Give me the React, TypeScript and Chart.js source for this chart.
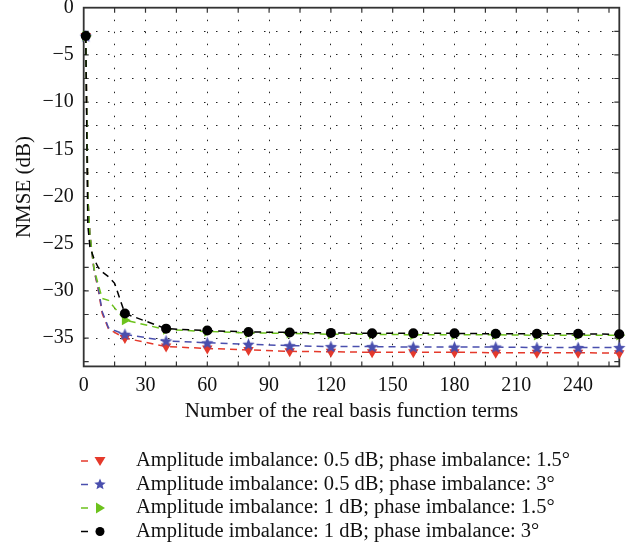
import React, { useEffect, useRef } from 'react';
import { Chart, registerables } from 'chart.js';
Chart.register(...registerables);

const xs = [1, 2, 3, 5, 7, 9, 12, 15, 20, 40, 60, 80, 100, 120, 140, 160, 180, 200, 220, 240, 260];
const redY = [-3, -20, -24, -27.8, -29.8, -32.4, -34.0, -34.4, -35.0, -35.9, -36.1, -36.25, -36.4, -36.45, -36.5, -36.5, -36.5, -36.55, -36.55, -36.55, -36.6];
const blueY = [-3, -20, -24, -27.8, -29.6, -32.2, -33.9, -34.2, -34.6, -35.3, -35.5, -35.65, -35.8, -35.9, -35.9, -35.95, -35.95, -35.95, -36.0, -36.0, -36.0];
const greenY = [-3, -20, -24, -27.6, -29.3, -30.8, -31.0, -31.8, -33.1, -34.1, -34.3, -34.45, -34.5, -34.6, -34.6, -34.65, -34.65, -34.65, -34.7, -34.7, -34.7];
const blackY = [-3, -23, -25.3, -26.6, -27.5, -28.0, -28.5, -29.2, -32.4, -34.0, -34.2, -34.35, -34.4, -34.45, -34.5, -34.5, -34.5, -34.55, -34.55, -34.55, -34.6];
const seriesNames = [
  'Amplitude imbalance: 0.5 dB; phase imbalance: 1.5°',
  'Amplitude imbalance: 0.5 dB; phase imbalance: 3°',
  'Amplitude imbalance: 1 dB; phase imbalance: 1.5°',
  'Amplitude imbalance: 1 dB; phase imbalance: 3°',
];
const colors = ['#e5392b', '#4a4fae', '#6cc21c', '#000000'];
const xTitle = 'Number of the real basis function terms';
const yTitle = 'NMSE (dB)';

const FONT = '"Liberation Serif", "DejaVu Serif", serif';

function starPath(ctx: CanvasRenderingContext2D, cx: number, cy: number, r: number) {
  ctx.beginPath();
  for (let i = 0; i < 10; i++) {
    const rr = i % 2 === 0 ? r : r * 0.45;
    const a = -Math.PI / 2 + (i * Math.PI) / 5;
    const px = cx + rr * Math.cos(a);
    const py = cy + rr * Math.sin(a);
    if (i === 0) ctx.moveTo(px, py);
    else ctx.lineTo(px, py);
  }
  ctx.closePath();
}

function makeStar(color: string, r: number) {
  const c = document.createElement('canvas');
  const s = Math.ceil(2 * r + 2);
  c.width = s;
  c.height = s;
  const g = c.getContext('2d')!;
  g.fillStyle = color;
  starPath(g, s / 2, s / 2 + 0.5, r);
  g.fill();
  return c;
}

const noPad = (s: any) => {
  s.paddingTop = 0;
  s.paddingBottom = 0;
  s.paddingLeft = 0;
  s.paddingRight = 0;
};

export default function App() {
  const ref = useRef<HTMLCanvasElement | null>(null);
  useEffect(() => {
    document.body.style.margin = '0';
    const canvas = ref.current!;
    const star = makeStar(colors[1], 6.5);
    const markerAt = (i: number) => xs[i] === 1 || xs[i] % 20 === 0;

    const frame = {
      id: 'frame',
      beforeDatasetsDraw(chart: any) {
        const { ctx, chartArea: a, scales } = chart;
        ctx.save();
        ctx.strokeStyle = '#333';
        ctx.lineWidth = 1.8;
        ctx.strokeRect(a.left, a.top, a.right - a.left, a.bottom - a.top);
        ctx.lineWidth = 1.2;
        ctx.beginPath();
        for (let v = 15; v < 260; v += 15) {
          const px = scales.x.getPixelForValue(v);
          ctx.moveTo(px, a.top); ctx.lineTo(px, a.top + 5);
          ctx.moveTo(px, a.bottom); ctx.lineTo(px, a.bottom - 5);
        }
        for (let v = -37.5; v < 0; v += 2.5) {
          const py = scales.y.getPixelForValue(v);
          ctx.moveTo(a.left, py); ctx.lineTo(a.left + 5, py);
          ctx.moveTo(a.right, py); ctx.lineTo(a.right - 5, py);
        }
        ctx.stroke();
        ctx.restore();
      },
    };

    const legend = {
      id: 'customLegend',
      afterDraw(chart: any) {
        const { ctx } = chart;
        ctx.save();
        for (let i = 0; i < 4; i++) {
          const y = 461 + i * 23.5;
          const col = colors[i];
          ctx.strokeStyle = col;
          ctx.lineWidth = 1.5;
          ctx.beginPath();
          ctx.moveTo(81, y); ctx.lineTo(88, y);
          ctx.stroke();
          ctx.fillStyle = col;
          const mx = 100;
          if (i === 0) {
            ctx.beginPath();
            ctx.moveTo(mx - 5.5, y - 4); ctx.lineTo(mx + 5.5, y - 4); ctx.lineTo(mx, y + 5);
            ctx.closePath(); ctx.fill();
          } else if (i === 1) {
            starPath(ctx, mx, y, 6); ctx.fill();
          } else if (i === 2) {
            ctx.beginPath();
            ctx.moveTo(mx - 4, y - 5.5); ctx.lineTo(mx + 5, y); ctx.lineTo(mx - 4, y + 5.5);
            ctx.closePath(); ctx.fill();
          } else {
            ctx.beginPath(); ctx.arc(mx, y, 4.5, 0, Math.PI * 2); ctx.fill();
          }
          ctx.fillStyle = '#111';
          ctx.font = `20.5px ${FONT}`;
          ctx.textBaseline = 'middle';
          ctx.textAlign = 'left';
          ctx.fillText(seriesNames[i], 136, y);
        }
        ctx.restore();
      },
    };

    const ys = [redY, blueY, greenY, blackY];
    const styles: any[] = ['triangle', star, 'triangle', 'circle'];
    const rotations = [180, 0, 90, 0];
    const radii = [6, 6.5, 6, 5];

    const chart = new Chart(canvas, {
      type: 'line',
      data: {
        datasets: ys.map((arr, k) => ({
          label: seriesNames[k],
          data: arr.map((y, i) => ({ x: xs[i], y })),
          borderColor: colors[k],
          backgroundColor: colors[k],
          borderWidth: 1.5,
          borderDash: [7, 5],
          pointStyle: styles[k],
          pointRotation: rotations[k],
          pointRadius: (c: any) => (markerAt(c.dataIndex) ? radii[k] : 0),
          pointBorderWidth: 0,
          pointHoverRadius: 0,
          tension: 0,
          order: 3 - k,
          clip: false as any,
        })),
      },
      options: {
        animation: false,
        responsive: false,
        events: [],
        layout: { padding: { left: 0, right: 12.7, top: 7.7, bottom: 123.6 } },
        plugins: { legend: { display: false }, tooltip: { enabled: false } },
        scales: {
          x: {
            type: 'linear',
            min: 0,
            max: 260,
            afterFit: (s: any) => { s.height = 60; noPad(s); },
            grid: { color: '#222', lineWidth: 1, drawTicks: false },
            border: { display: false, dash: [1.5, 10.5] },
            ticks: {
              stepSize: 15,
              padding: 7,
              color: '#111',
              font: { family: FONT, size: 20 },
              maxRotation: 0,
              autoSkip: false,
              callback: (v: any) => (Number(v) % 30 === 0 ? String(v) : ''),
            },
            title: { display: true, text: xTitle, color: '#111', font: { family: FONT, size: 21 }, padding: { top: 0, bottom: 2.3 } },
          },
          y: {
            type: 'linear',
            min: -38,
            max: 0,
            afterFit: (s: any) => { s.width = 83.7; noPad(s); },
            grid: { color: '#222', lineWidth: 1, drawTicks: false },
            border: { display: false, dash: [1.5, 10.5] },
            ticks: {
              stepSize: 2.5,
              padding: 10,
              color: '#111',
              font: { family: FONT, size: 20 },
              autoSkip: false,
              callback: (v: any) => {
                const n = Number(v);
                return Math.abs(n % 5) < 1e-9 ? (n === 0 ? '0' : '−' + Math.abs(n)) : '';
              },
            },
            title: { display: true, text: yTitle, color: '#111', font: { family: FONT, size: 21 }, padding: { top: 12, bottom: 0 } },
          },
        },
      },
      plugins: [frame, legend],
    } as any);
    return () => chart.destroy();
  }, []);
  return <canvas ref={ref} width={632} height={550} style={{ display: 'block' }} />;
}
